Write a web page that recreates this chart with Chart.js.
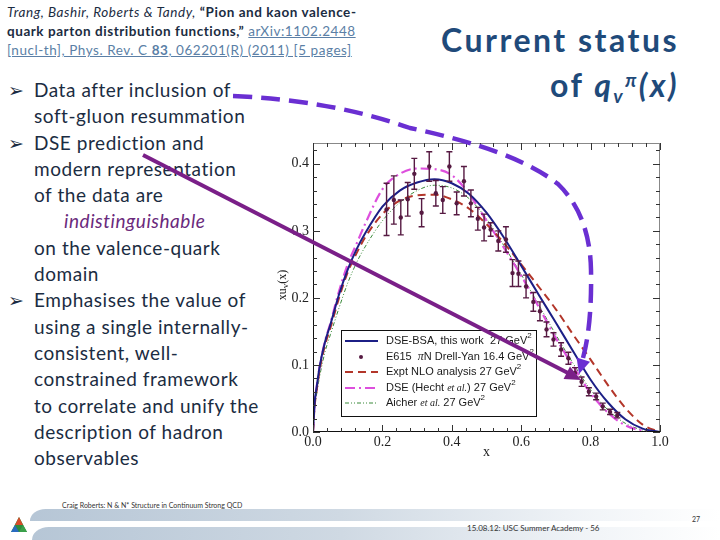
<!DOCTYPE html>
<html>
<head>
<meta charset="utf-8">
<script src="https://cdn.jsdelivr.net/npm/chart.js@4.4.1/dist/chart.umd.min.js"></script>
<style>
  html,body{margin:0;padding:0;background:#fff;}
  #page{position:relative;width:720px;height:540px;overflow:hidden;background:#fff;font-family:Lato,"Noto Sans",sans-serif;}
  #c{position:absolute;left:0;top:0;z-index:5;}
  .cite{position:absolute;left:7px;top:3px;font-size:13.5px;letter-spacing:0.55px;line-height:19px;color:#1b2c42;white-space:nowrap;}
  .cite a{color:#5b7fa6;text-decoration:underline;}
  .title{position:absolute;right:41px;top:20px;text-align:right;font-weight:bold;color:#1f4a7a;font-size:32px;letter-spacing:2.5px;line-height:40px;white-space:nowrap;}
  .body{position:absolute;left:0;top:77px;font-size:19px;letter-spacing:0.55px;line-height:26.3px;color:#1b2c42;white-space:nowrap;}
  .body div{padding-left:34px;position:relative;}
  .body .b::before{content:"\27A2";position:absolute;left:8px;top:0;font-family:"DejaVu Sans";font-size:19px;letter-spacing:0;}
  .ind{font-style:italic;color:#6a2a7c;padding-left:64px !important;}
  .foot1{position:absolute;left:62px;top:501px;font-size:7px;color:#333;white-space:nowrap;}
  .foot2{position:absolute;left:467px;top:523px;font-size:8px;color:#333;white-space:nowrap;}
  .foot3{position:absolute;left:692px;top:515px;font-size:7px;color:#333;}
  .band{position:absolute;border-top-left-radius:18px 14px;}
</style>
</head>
<body>
<div id="page">
  <div class="cite">
    <div><i>Trang, Bashir, Roberts &amp; Tandy,</i> <b>“Pion and kaon valence-</b></div>
    <div><b>quark parton distribution functions,”</b> <a>arXiv:1102.2448</a></div>
    <div><a>[nucl-th], Phys. Rev. C <b>83</b>, 062201(R) (2011) [5 pages]</a></div>
  </div>
  <div class="title">
    <div>Current status</div>
    <div>of <i>q<sub style="font-size:19px;vertical-align:-6px">v</sub><sup style="font-size:19px;vertical-align:10px">π</sup>(x)</i></div>
  </div>
  <div class="body">
    <div class="b">Data after inclusion of</div>
    <div>soft-gluon resummation</div>
    <div class="b">DSE prediction and</div>
    <div>modern representation</div>
    <div>of the data are</div>
    <div class="ind">indistinguishable</div>
    <div>on the valence-quark</div>
    <div>domain</div>
    <div class="b">Emphasises the value of</div>
    <div>using a single internally-</div>
    <div>consistent, well-</div>
    <div>constrained framework</div>
    <div>to correlate and unify the</div>
    <div>description of hadron</div>
    <div>observables</div>
  </div>
  <div class="band" style="left:30px;top:509px;width:690px;height:12px;background:linear-gradient(90deg,#b6c6d6 0%,#cfd9e3 45%,rgba(230,236,242,0.6) 80%,rgba(255,255,255,0) 100%);"></div>
  <div class="band" style="left:32px;top:527px;width:688px;height:13px;background:linear-gradient(90deg,#b6c6d6 0%,#cfd9e3 45%,rgba(230,236,242,0.6) 80%,rgba(255,255,255,0) 100%);"></div>
  <svg style="position:absolute;left:10px;top:516px" width="18" height="18" viewBox="0 0 18 18">
    <polygon points="9,1 17,16 1,16" fill="#2e8b3d"/>
    <polygon points="9,1 13,9 5,9" fill="#d84a2a"/>
    <polygon points="5,9 9,16 1,16" fill="#2a6bc0"/>
    <polygon points="13,9 17,16 9,16" fill="#3aa04a"/>
  </svg>
  <div class="foot1">Craig Roberts: N &amp; N* Structure in Continuum Strong QCD</div>
  <div class="foot2">15.08.12: USC Summer Academy - 56</div>
  <div class="foot3">27</div>
  <canvas id="c" width="720" height="540"></canvas>
</div>
<script>
// ---- data ----
const curveX  = [0, 0.005, 0.01, 0.02, 0.035, 0.05, 0.075, 0.1, 0.125, 0.15, 0.2, 0.25, 0.3, 0.35, 0.4, 0.45, 0.5, 0.55, 0.6, 0.65, 0.7, 0.75, 0.8, 0.85, 0.9, 0.95, 1.0];
const bsaY    = [0, 0.045, 0.065, 0.1, 0.135, 0.16, 0.205, 0.242, 0.272, 0.296, 0.336, 0.36, 0.372, 0.377, 0.371, 0.355, 0.327, 0.29, 0.248, 0.205, 0.163, 0.12, 0.078, 0.044, 0.019, 0.005, 0];
const nloY    = [0, 0.04, 0.06, 0.095, 0.13, 0.155, 0.2, 0.238, 0.266, 0.29, 0.325, 0.345, 0.353, 0.354, 0.347, 0.333, 0.31, 0.282, 0.25, 0.217, 0.183, 0.145, 0.108, 0.07, 0.036, 0.011, 0];
const hechtY  = [0, 0.045, 0.065, 0.1, 0.136, 0.162, 0.21, 0.25, 0.28, 0.31, 0.362, 0.385, 0.393, 0.392, 0.383, 0.355, 0.315, 0.275, 0.233, 0.187, 0.14, 0.098, 0.058, 0.029, 0.01, 0.002, 0];
const aicherY = [0, 0.035, 0.055, 0.085, 0.12, 0.145, 0.185, 0.222, 0.252, 0.276, 0.315, 0.342, 0.36, 0.368, 0.364, 0.348, 0.318, 0.278, 0.235, 0.19, 0.145, 0.102, 0.063, 0.033, 0.013, 0.003, 0];
const e615X   = [0.212, 0.233, 0.253, 0.273, 0.292, 0.313, 0.335, 0.354, 0.374, 0.393, 0.414, 0.435, 0.455, 0.475, 0.493, 0.512, 0.534, 0.556, 0.575, 0.592, 0.614, 0.635, 0.654, 0.673, 0.693, 0.715, 0.736, 0.755, 0.774, 0.795, 0.816, 0.835, 0.856, 0.877];
const e615Y   = [0.332, 0.346, 0.320, 0.347, 0.385, 0.327, 0.396, 0.356, 0.346, 0.396, 0.341, 0.374, 0.341, 0.318, 0.305, 0.302, 0.285, 0.287, 0.237, 0.236, 0.217, 0.194, 0.180, 0.153, 0.138, 0.123, 0.110, 0.088, 0.075, 0.060, 0.053, 0.038, 0.030, 0.025];
const e615Err = [0.039, 0.036, 0.026, 0.025, 0.023, 0.021, 0.022, 0.019, 0.020, 0.022, 0.017, 0.022, 0.020, 0.017, 0.020, 0.010, 0.015, 0.019, 0.020, 0.019, 0.017, 0.014, 0.014, 0.011, 0.010, 0.010, 0.009, 0.008, 0.007, 0.006, 0.005, 0.005, 0.004, 0.004];
const xTickLabels = ['0.0', '0.2', '0.4', '0.6', '0.8', '1.0'];
const yTickLabels = ['0.0', '0.1', '0.2', '0.3', '0.4'];

const pts = (xs, ys) => xs.map((x, i) => ({x: x, y: ys[i]}));
const C = {bsa:'#1c1f86', nlo:'#b3362a', hecht:'#dd4fdd', aicher:'#3a8a3a', data:'#561a42'};

const errorBars = {
  id: 'errorBars',
  afterDatasetsDraw(chart) {
    const {ctx, scales: {x, y}} = chart;
    ctx.save();
    ctx.strokeStyle = C.data; ctx.lineWidth = 1.4;
    e615X.forEach((xv, i) => {
      const px = x.getPixelForValue(xv);
      const y1 = y.getPixelForValue(e615Y[i] - e615Err[i]);
      const y2 = y.getPixelForValue(e615Y[i] + e615Err[i]);
      ctx.beginPath();
      ctx.moveTo(px, y1); ctx.lineTo(px, y2);
      ctx.moveTo(px - 3, y1); ctx.lineTo(px + 3, y1);
      ctx.moveTo(px - 3, y2); ctx.lineTo(px + 3, y2);
      ctx.stroke();
    });
    ctx.restore();
  }
};

const frame = {
  id: 'frame',
  afterDraw(chart) {
    const {ctx, chartArea: a, scales: {x, y}} = chart;
    ctx.save();
    ctx.strokeStyle = '#888'; ctx.lineWidth = 1;
    ctx.beginPath();
    ctx.moveTo(a.left, a.top + 0.5); ctx.lineTo(a.right, a.top + 0.5);
    ctx.moveTo(a.right - 0.5, a.top); ctx.lineTo(a.right - 0.5, a.bottom);
    ctx.stroke();
    ctx.strokeStyle = '#111';
    ctx.beginPath();
    ctx.moveTo(a.left + 0.5, a.top); ctx.lineTo(a.left + 0.5, a.bottom);
    ctx.moveTo(a.left, a.bottom - 0.5); ctx.lineTo(a.right, a.bottom - 0.5);
    ctx.stroke();
    // inward ticks
    ctx.strokeStyle = '#333';
    ctx.beginPath();
    for (let k = 0; k <= 25; k++) {
      const v = k * 0.04; const px = Math.round(x.getPixelForValue(v)) + 0.5;
      const L = (k % 5 === 0) ? 7 : 4;
      ctx.moveTo(px, a.bottom); ctx.lineTo(px, a.bottom - L);
      ctx.moveTo(px, a.top); ctx.lineTo(px, a.top + L);
    }
    for (let k = 0; k <= 21; k++) {
      const v = k * 0.02; const py = Math.round(y.getPixelForValue(v)) + 0.5;
      const L = (k % 5 === 0) ? 7 : 4;
      ctx.moveTo(a.left, py); ctx.lineTo(a.left + L, py);
      ctx.moveTo(a.right, py); ctx.lineTo(a.right - L, py);
    }
    ctx.stroke();
    // axis titles
    ctx.fillStyle = '#222';
    ctx.font = '14px "Liberation Serif"';
    ctx.textAlign = 'center'; ctx.textBaseline = 'middle';
    ctx.fillText('x', (a.left + a.right) / 2, 452);
    ctx.save();
    ctx.translate(283, 285); ctx.rotate(-Math.PI / 2);
    ctx.font = '12px "Liberation Serif"'; ctx.textAlign = 'left';
    const w1 = ctx.measureText('xu').width;
    ctx.font = '9px "Liberation Serif"'; const w2 = ctx.measureText('v').width;
    ctx.font = '12px "Liberation Serif"'; const w3 = ctx.measureText('(x)').width;
    let sx = -(w1 + w2 + w3) / 2;
    ctx.fillText('xu', sx, 0); sx += w1;
    ctx.font = '9px "Liberation Serif"'; ctx.fillText('v', sx, 3); sx += w2;
    ctx.font = '12px "Liberation Serif"'; ctx.fillText('(x)', sx, 0);
    ctx.restore();
    ctx.restore();
  }
};

function rich(ctx, x, y, segs) {
  let cx = x;
  segs.forEach(s => {
    ctx.font = s.f; ctx.fillText(s.t, cx, y + (s.dy || 0)); cx += ctx.measureText(s.t).width;
  });
}

const legendBox = {
  id: 'legendBox',
  afterDraw(chart) {
    const ctx = chart.ctx;
    ctx.save();
    ctx.fillStyle = '#fff'; ctx.fillRect(341, 330, 195, 87);
    ctx.strokeStyle = '#111'; ctx.lineWidth = 1; ctx.strokeRect(341.5, 330.5, 195, 86);
    const rows = [341, 357, 372, 388, 403];
    const st = [
      {c: C.bsa, w: 2.2, d: []},
      null,
      {c: C.nlo, w: 2.2, d: [8, 5]},
      {c: C.hecht, w: 2, d: [10, 4, 2, 4]},
      {c: C.aicher, w: 1, d: [4, 2, 1, 2, 1, 2]}
    ];
    st.forEach((s, i) => {
      if (s) {
        ctx.strokeStyle = s.c; ctx.lineWidth = s.w; ctx.setLineDash(s.d);
        ctx.beginPath(); ctx.moveTo(345, rows[i]); ctx.lineTo(378, rows[i]); ctx.stroke();
      } else {
        ctx.setLineDash([]); ctx.fillStyle = C.data;
        ctx.beginPath(); ctx.arc(361, rows[i], 2, 0, Math.PI * 2); ctx.fill();
      }
    });
    ctx.setLineDash([]);
    ctx.fillStyle = '#1a1a1a'; ctx.textBaseline = 'middle'; ctx.textAlign = 'left';
    const F = '11px "Liberation Sans"', S = '8px "Liberation Sans"', I = 'italic 10px "Liberation Serif"', P = 'italic 12px "Liberation Serif"';
    rich(ctx, 386, rows[0], [{t: 'DSE-BSA, this work  27 GeV', f: F}, {t: '2', f: S, dy: -5}]);
    rich(ctx, 386, rows[1], [{t: 'E615  ', f: F}, {t: 'π', f: P}, {t: 'N Drell-Yan 16.4 GeV', f: F}, {t: '2', f: S, dy: -5}]);
    rich(ctx, 386, rows[2], [{t: 'Expt NLO analysis 27 GeV', f: F}, {t: '2', f: S, dy: -5}]);
    rich(ctx, 386, rows[3], [{t: 'DSE (Hecht ', f: F}, {t: 'et al.', f: I}, {t: ') 27 GeV', f: F}, {t: '2', f: S, dy: -5}]);
    rich(ctx, 386, rows[4], [{t: 'Aicher ', f: F}, {t: 'et al.', f: I}, {t: ' 27 GeV', f: F}, {t: '2', f: S, dy: -5}]);
    ctx.restore();
  }
};

function head(ctx, tx, ty, dx, dy, len, wid) {
  const n = Math.hypot(dx, dy); dx /= n; dy /= n;
  const bx = tx - dx * len, by = ty - dy * len;
  ctx.beginPath();
  ctx.moveTo(tx, ty);
  ctx.lineTo(bx - dy * wid / 2, by + dx * wid / 2);
  ctx.lineTo(bx + dy * wid / 2, by - dx * wid / 2);
  ctx.closePath(); ctx.fill();
}

const arrows = {
  id: 'arrows',
  afterDraw(chart) {
    const ctx = chart.ctx;
    ctx.save();
    // solid arrow
    ctx.strokeStyle = '#7a1f88'; ctx.fillStyle = '#7a1f88'; ctx.lineWidth = 4; ctx.lineCap = 'butt';
    ctx.beginPath(); ctx.moveTo(143, 155); ctx.lineTo(568, 373); ctx.stroke();
    head(ctx, 581, 380, 1, 0.514, 16, 14);
    // dashed curved arrow
    ctx.strokeStyle = '#6a2fd2'; ctx.fillStyle = '#6a2fd2'; ctx.lineWidth = 4.5; ctx.setLineDash([19, 9]);
    ctx.beginPath();
    ctx.moveTo(233, 96);
    ctx.quadraticCurveTo(330, 100, 410, 128);
    ctx.quadraticCurveTo(515, 150, 558, 184);
    ctx.quadraticCurveTo(590, 215, 591, 270);
    ctx.quadraticCurveTo(592, 325, 583, 358);
    ctx.stroke();
    ctx.setLineDash([]);
    head(ctx, 579, 374, -0.3, 1, 15, 14);
    ctx.restore();
  }
};

new Chart(document.getElementById('c'), {
  type: 'scatter',
  data: {
    datasets: [
      {label: 'E615', data: pts(e615X, e615Y), showLine: false, pointRadius: 2.2, pointBackgroundColor: C.data, pointBorderColor: C.data, pointBorderWidth: 0},
      {label: 'DSE-BSA', data: pts(curveX, bsaY), showLine: true, borderColor: C.bsa, borderWidth: 2, pointRadius: 0, cubicInterpolationMode: 'monotone'},
      {label: 'NLO', data: pts(curveX, nloY), showLine: true, borderColor: C.nlo, borderWidth: 2, borderDash: [8, 5], pointRadius: 0, cubicInterpolationMode: 'monotone'},
      {label: 'Hecht', data: pts(curveX, hechtY), showLine: true, borderColor: C.hecht, borderWidth: 2.2, borderDash: [10, 4, 2, 4], pointRadius: 0, cubicInterpolationMode: 'monotone'},
      {label: 'Aicher', data: pts(curveX, aicherY), showLine: true, borderColor: C.aicher, borderWidth: 1, borderDash: [4, 2, 1, 2, 1, 2], pointRadius: 0, cubicInterpolationMode: 'monotone'}
    ]
  },
  options: {
    responsive: false, animation: false, devicePixelRatio: 1,
    layout: {padding: {left: 268, top: 143, right: 60, bottom: 80}},
    plugins: {legend: {display: false}, tooltip: {enabled: false}},
    scales: {
      x: {
        type: 'linear', min: 0, max: 1.0,
        grid: {display: false, drawTicks: false}, border: {display: false},
        afterFit: s => { s.height = 28; },
        ticks: {stepSize: 0.2, padding: 2, color: '#222', font: {family: 'Liberation Serif', size: 14},
          callback: (v) => xTickLabels[Math.round(v / 0.2)] }
      },
      y: {
        type: 'linear', min: 0, max: 0.431,
        grid: {display: false, drawTicks: false}, border: {display: false},
        afterFit: s => { s.width = 45; },
        ticks: {stepSize: 0.1, includeBounds: false, padding: 4, color: '#222', font: {family: 'Liberation Serif', size: 14},
          callback: (v) => yTickLabels[Math.round(v / 0.1)] }
      }
    }
  },
  plugins: [errorBars, frame, legendBox, arrows]
});
</script>
</body>
</html>
